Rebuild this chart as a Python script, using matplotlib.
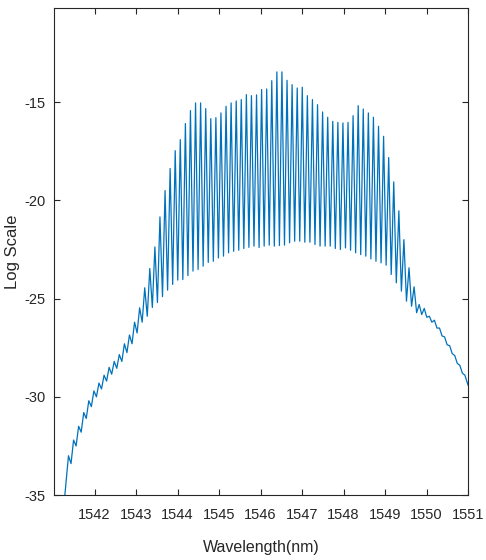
import numpy as np
import matplotlib
matplotlib.use('Agg')
import matplotlib.pyplot as plt

plt.rcParams['font.family'] = ['Liberation Sans', 'DejaVu Sans']
plt.rcParams['axes.unicode_minus'] = False

# Comb line positions (nm) and their peak power (dB)
peak_nm = [1541.370, 1541.493, 1541.615, 1541.738, 1541.860, 1541.983, 1542.105,
           1542.228, 1542.350, 1542.473, 1542.595, 1542.718, 1542.840, 1542.963,
           1543.085, 1543.208, 1543.330, 1543.453, 1543.575, 1543.698, 1543.820,
           1543.943, 1544.065, 1544.188, 1544.310, 1544.433, 1544.555, 1544.678,
           1544.800, 1544.923, 1545.045, 1545.168, 1545.290, 1545.413, 1545.535,
           1545.658, 1545.780, 1545.903, 1546.025, 1546.148, 1546.270, 1546.393,
           1546.515, 1546.638, 1546.760, 1546.883, 1547.005, 1547.128, 1547.250,
           1547.373, 1547.495, 1547.618, 1547.740, 1547.863, 1547.985, 1548.108,
           1548.230, 1548.353, 1548.475, 1548.598, 1548.720, 1548.843, 1548.965,
           1549.088, 1549.210, 1549.333, 1549.455, 1549.578, 1549.700, 1549.823,
           1549.945, 1550.068, 1550.190, 1550.313, 1550.435, 1550.558, 1550.680,
           1550.803, 1550.925]
peak_db = [-33.0, -32.2, -31.5, -30.8, -30.2, -29.7, -29.3,
           -28.9, -28.5, -28.2, -27.85, -27.3, -26.85, -26.2,
           -25.47, -24.45, -23.47, -22.37, -20.84, -19.5, -18.38,
           -17.47, -16.91, -16.09, -15.43, -15.04, -15.04, -15.33,
           -15.84, -15.79, -15.55, -15.21, -15.04, -14.94, -14.87,
           -14.62, -14.67, -14.63, -14.36, -14.33, -13.91, -13.46,
           -13.46, -13.89, -14.11, -14.28, -14.24, -14.67, -14.87,
           -15.13, -15.5, -15.77, -15.98, -16.03, -16.06, -16.03,
           -15.69, -15.18, -15.35, -15.55, -15.77, -16.23, -16.74,
           -17.82, -19.06, -20.53, -22.0, -23.43, -24.4, -25.3,
           -25.5, -25.9, -26.1, -26.5, -26.95, -27.4, -27.9,
           -28.4, -28.9]
# Floor between neighbouring lines (dB)
valley_db = [-33.4, -32.5, -31.8, -31.1, -30.5, -30.0, -29.6,
             -29.2, -28.85, -28.55, -28.2, -27.75, -27.3, -26.75,
             -26.2, -25.9, -25.45, -25.2, -24.9, -24.57, -24.28,
             -24.06, -24.03, -23.83, -23.6, -23.52, -23.35, -23.16,
             -23.1, -22.93, -22.84, -22.67, -22.59, -22.54, -22.45,
             -22.39, -22.33, -22.4, -22.33, -22.28, -22.33, -22.3,
             -22.28, -22.16, -22.08, -22.08, -22.13, -22.13, -22.25,
             -22.33, -22.33, -22.33, -22.45, -22.5, -22.42, -22.54,
             -22.67, -22.76, -22.84, -22.98, -23.1, -23.18, -23.3,
             -23.77, -24.2, -24.62, -25.13, -25.39, -25.72, -25.81,
             -25.95, -26.2, -26.5, -26.9, -27.35, -27.8, -28.3,
             -28.8]
# Ends of the recorded span
start_nm, start_db = 1541.27, -35.3
end_nm, end_db = 1551.0, -29.4

peaks_x = np.array(peak_nm)
valleys_x = (peaks_x[:-1] + peaks_x[1:]) / 2

wl = [start_nm]
pw = [start_db]
for i in range(len(peak_nm)):
    wl.append(peak_nm[i])
    pw.append(peak_db[i])
    if i < len(valley_db):
        wl.append(valleys_x[i])
        pw.append(valley_db[i])
wl.append(end_nm)
pw.append(end_db)

fig = plt.figure(figsize=(4.86, 5.6), dpi=100)
ax = fig.add_axes([0.111, 0.116, 0.852, 0.870])

ax.plot(wl, pw, color='#0072BD', linewidth=0.9)

ax.set_xlim(1541.02, 1551)
ax.set_ylim(-35, -10.2)
ax.set_xticks(range(1542, 1552))
ax.set_yticks([-35, -30, -25, -20, -15])
ax.tick_params(direction='in', top=True, right=True, length=4.3, width=0.8,
               labelsize=10.5, colors='#262626')
ax.tick_params(axis='x', pad=9)
ax.tick_params(axis='y', pad=6)
for s in ax.spines.values():
    s.set_color('#262626')
    s.set_linewidth(0.8)

ax.set_xlabel('Wavelength(nm)', fontsize=11.5, color='#262626', labelpad=13)
ax.set_ylabel('Log Scale', fontsize=12, color='#262626', labelpad=3)

fig.savefig('out.png', dpi=100)
